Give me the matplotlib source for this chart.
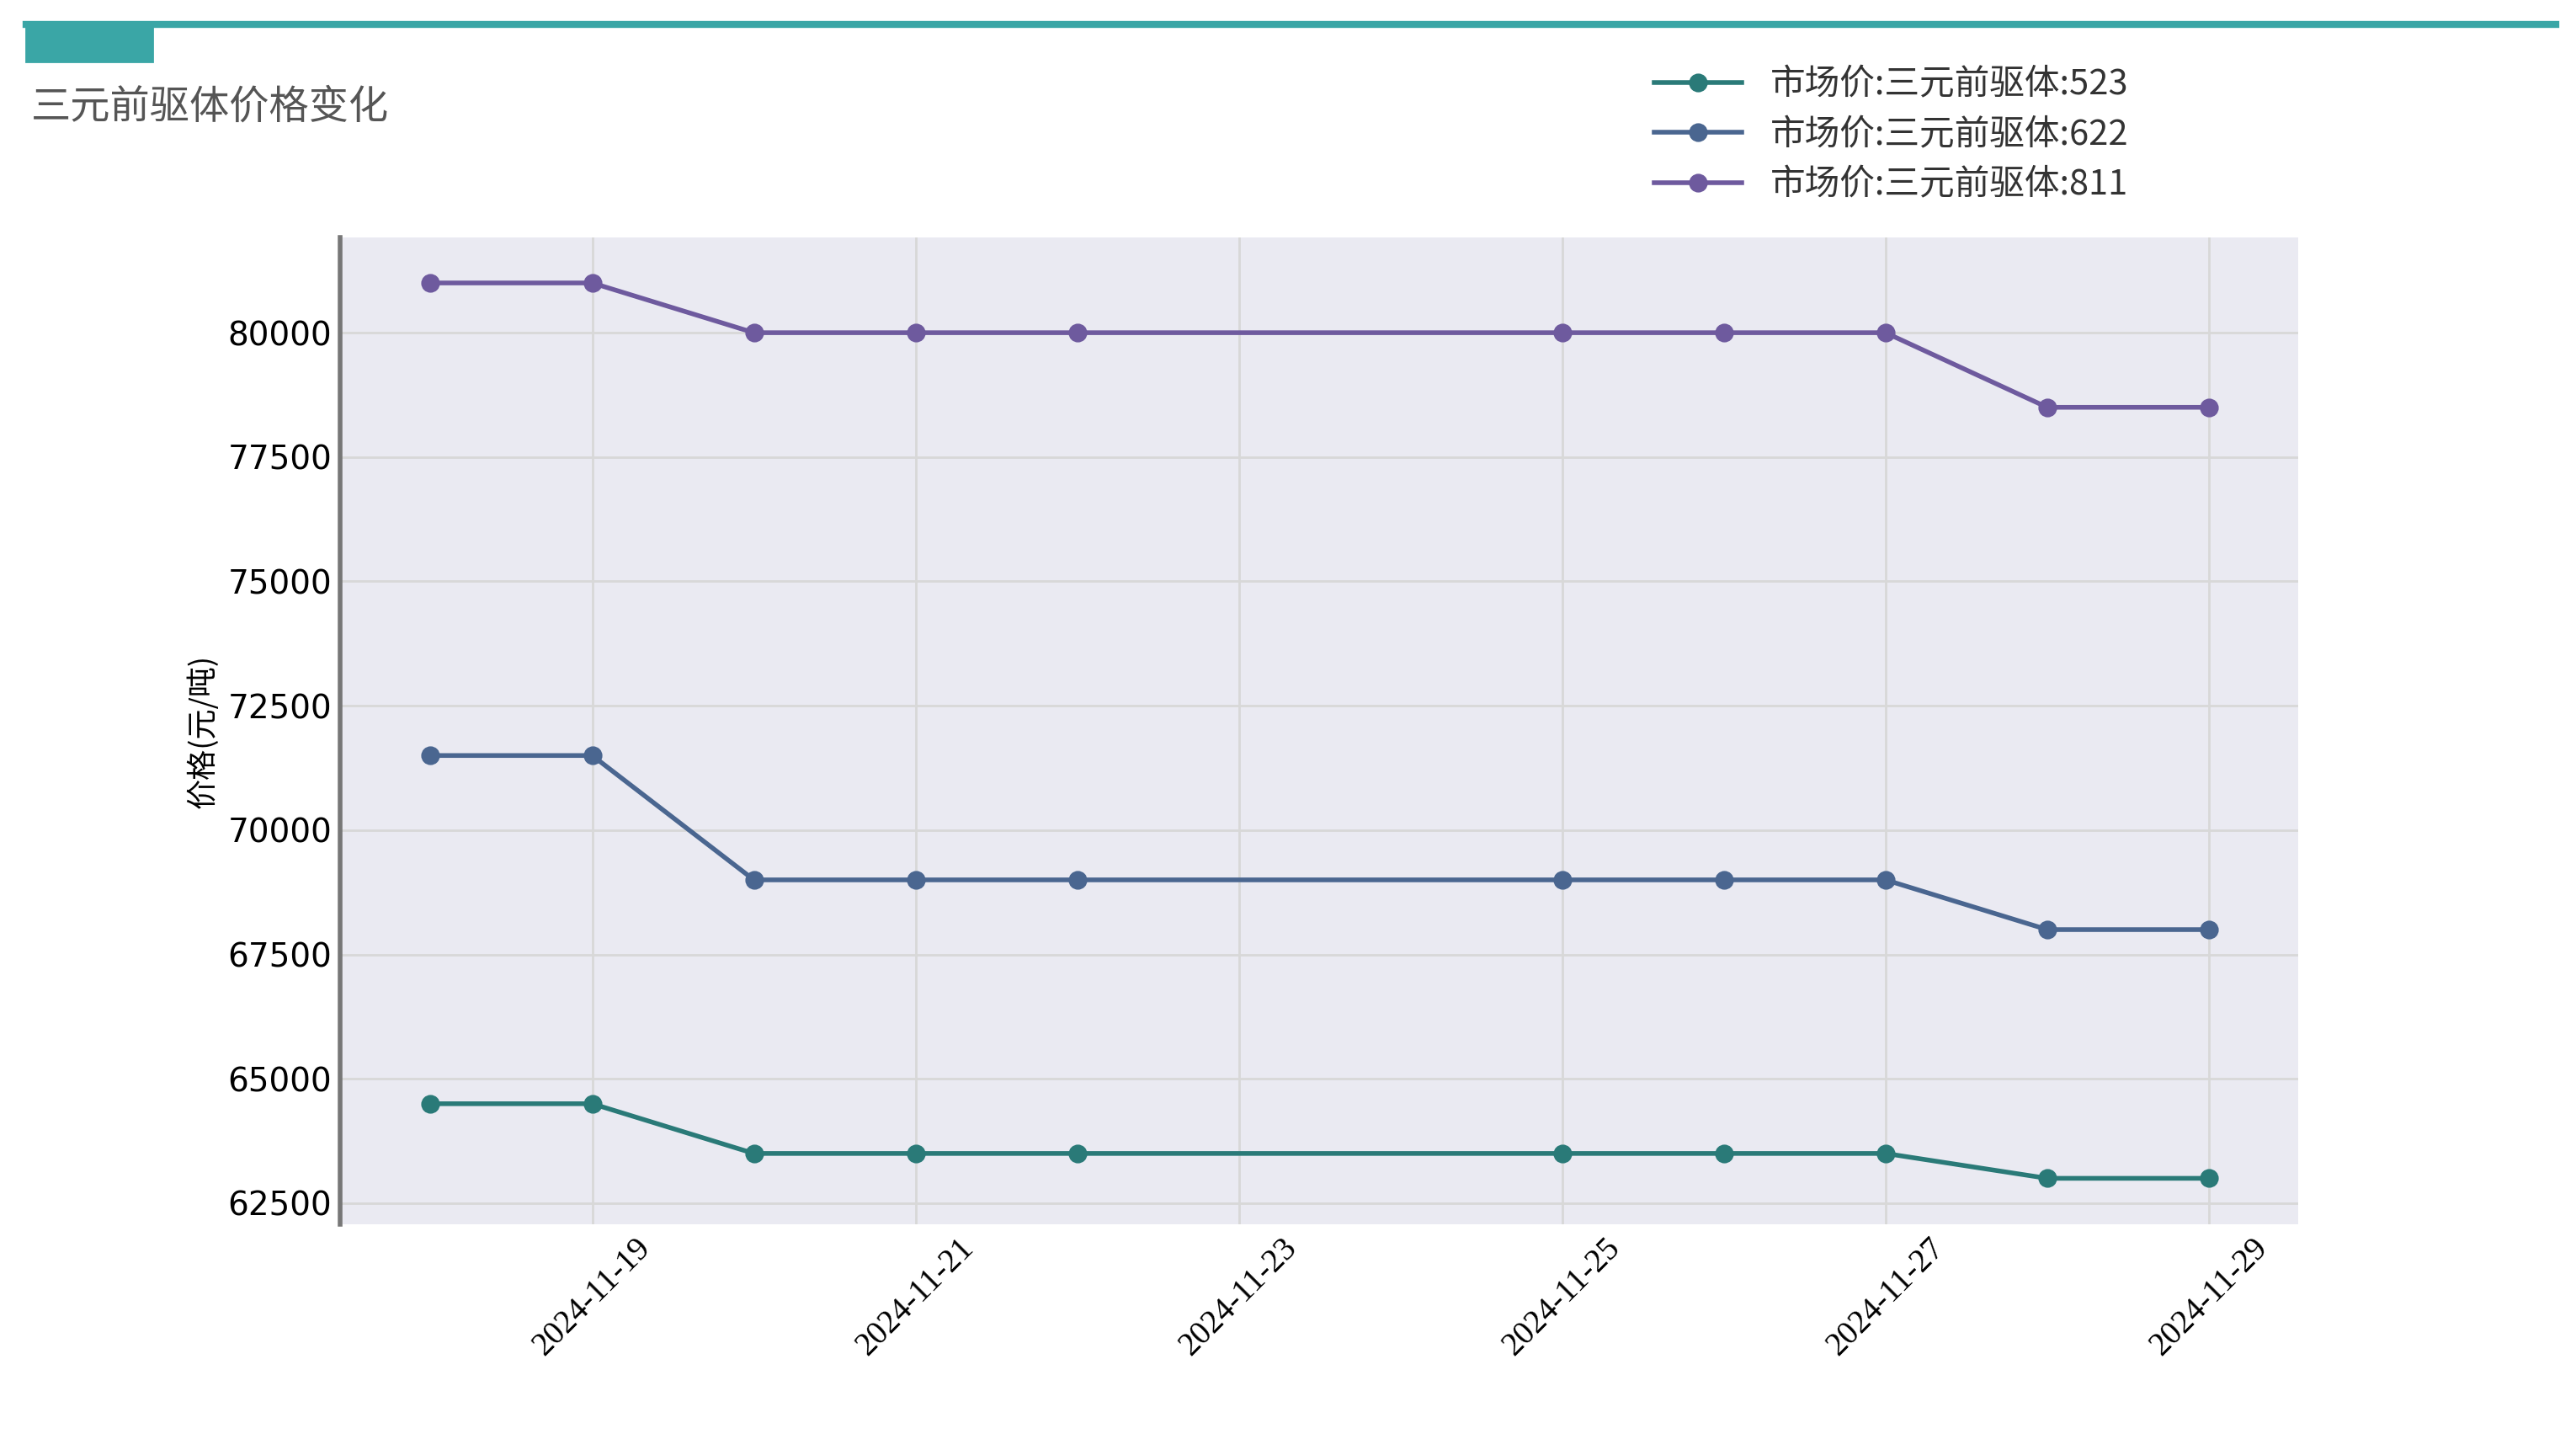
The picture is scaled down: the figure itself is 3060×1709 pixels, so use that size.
import matplotlib
matplotlib.use("Agg")
import matplotlib.pyplot as plt
import matplotlib.dates as mdates
import numpy as np
from datetime import datetime, timedelta

dates = ["2024-11-18", "2024-11-19", "2024-11-20", "2024-11-21", "2024-11-22",
         "2024-11-25", "2024-11-26", "2024-11-27", "2024-11-28", "2024-11-29"]
p523 = [64500, 64500, 63500, 63500, 63500, 63500, 63500, 63500, 63000, 63000]
p622 = [71500, 71500, 69000, 69000, 69000, 69000, 69000, 69000, 68000, 68000]
p811 = [81000, 81000, 80000, 80000, 80000, 80000, 80000, 80000, 78500, 78500]
names = ["市场价:三元前驱体:523", "市场价:三元前驱体:622", "市场价:三元前驱体:811"]
colors = ["#2a7a78", "#4a6690", "#6e5a9e"]

cjk = "Noto Sans CJK SC"
x = [datetime.strptime(d, "%Y-%m-%d") for d in dates]

fig = plt.figure(figsize=(15.3, 8.545), dpi=200)
ax = fig.add_axes([0.132, 0.149, 0.760, 0.686])
ax.set_facecolor("#eaeaf2")

for ys, c, n in zip([p523, p622, p811], colors, names):
    ax.plot(x, ys, color=c, lw=2, marker="o", ms=7, label=n)

ax.set_xlim(x[0] - timedelta(days=0.56), x[-1] + timedelta(days=0.55))
ax.set_ylim(62070, 81915)
ax.set_yticks(np.arange(62500, 80001, 2500))
ax.xaxis.set_major_locator(mdates.DayLocator(bymonthday=[19, 21, 23, 25, 27, 29]))
ax.xaxis.set_major_formatter(mdates.DateFormatter("%Y-%m-%d"))
ax.grid(True, color="#d8d8d8", lw=1)
for s in ["top", "right", "bottom"]:
    ax.spines[s].set_visible(False)
ax.spines["left"].set_color("#777777")
ax.spines["left"].set_linewidth(2)
ax.tick_params(length=0, labelsize=14)
for lab in ax.get_xticklabels():
    lab.set_fontfamily("Liberation Serif")
    lab.set_rotation(45)
    lab.set_fontsize(14)
ax.set_ylabel("价格(元/吨)", fontfamily=cjk, fontsize=13)

leg = fig.legend(loc="upper left", bbox_to_anchor=(0.630, 0.975), frameon=False,
                 prop={"family": cjk, "size": 15}, handlelength=2.5, labelspacing=0.45)
for t in leg.get_texts():
    t.set_color("#333333")

fig.text(0.012, 0.918, "三元前驱体价格变化", fontfamily=cjk, fontsize=17, color="#555555")
fig.add_artist(plt.Line2D([0.01, 0.992], [0.983, 0.983], color="#3aa6a6", lw=3))
fig.add_artist(plt.Rectangle((0.01, 0.957), 0.049, 0.026, color="#3aa6a6"))

fig.savefig("out.png", dpi=200)
